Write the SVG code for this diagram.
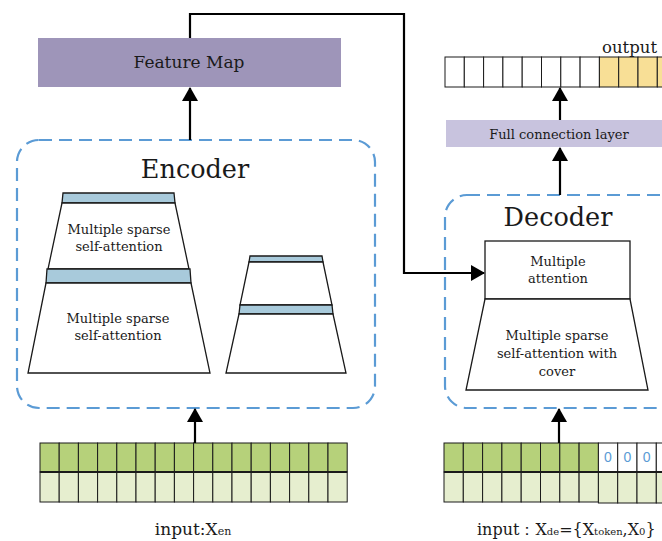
<svg xmlns="http://www.w3.org/2000/svg" width="662" height="541" viewBox="0 0 662 541">
<defs>
<marker id="ah" markerWidth="14" markerHeight="16" refX="13" refY="8" orient="auto" markerUnits="userSpaceOnUse">
<path d="M0,0 L14,8 L0,16 Z" fill="#000"/>
</marker>
<style>
.t{font-family:"DejaVu Serif","Liberation Serif",serif;fill:#1a1a1a;text-anchor:middle}
.dash{fill:none;stroke:#5b9bd5;stroke-width:2.2;stroke-dasharray:13 7}
.shape{fill:#fff;stroke:#1a1a1a;stroke-width:1.3}
.bar{fill:#a8cadb;stroke:#1a1a1a;stroke-width:1.3}
.conn{fill:none;stroke:#000;stroke-width:2.2}
.g1{fill:#b6d17a;stroke:#1a1a1a;stroke-width:1}
.g2{fill:#e6eecf;stroke:#1a1a1a;stroke-width:1}
.w{fill:#fff;stroke:#1a1a1a;stroke-width:1}
.y{fill:#f8df96;stroke:#1a1a1a;stroke-width:1}
</style>
</defs>
<rect width="662" height="541" fill="#fff"/>

<g id="feature-map">
<rect x="38" y="38" width="303" height="49" fill="#9e95b9"/>
<text class="t" x="189" y="68" font-size="17">Feature Map</text>
</g>

<g id="encoder">
<rect class="dash" x="17" y="140" width="358" height="268" rx="22"/>
<text class="t" x="195" y="178" font-size="25.5">Encoder</text>
<g id="enc-stack-left">
<polygon class="bar" points="63,193 174,193 175,203 62,203"/>
<polygon class="shape" points="62,203 175,203 189,269 48,269"/>
<polygon class="bar" points="47,269 190,269 191,283 46,283"/>
<polygon class="shape" points="46,283 191,283 210,373 28,373"/>
<text class="t" x="119" y="234" font-size="13">Multiple sparse</text>
<text class="t" x="119" y="251" font-size="13">self-attention</text>
<text class="t" x="118" y="323" font-size="13">Multiple sparse</text>
<text class="t" x="118" y="340" font-size="13">self-attention</text>
</g>
<g id="enc-stack-right">
<polygon class="bar" points="250,256 322,256 323,262 249,262"/>
<polygon class="shape" points="249,262 323,262 332,305 240,305"/>
<polygon class="bar" points="240,305 332,305 333,314 239,314"/>
<polygon class="shape" points="239,314 333,314 346,373 226,373"/>
</g>
</g>

<g id="decoder">
<rect class="dash" x="445" y="195" width="240" height="213" rx="22"/>
<text class="t" x="558" y="226" font-size="25.5">Decoder</text>
</g>

<g id="multiple-attention">
<rect class="shape" x="485" y="241" width="145" height="58"/>
<text class="t" x="558" y="266" font-size="13">Multiple</text>
<text class="t" x="558" y="283" font-size="13">attention</text>
</g>

<g id="sparse-cover">
<polygon class="shape" points="485,299 630,299 648,390 466,390"/>
<text class="t" x="557" y="340" font-size="13">Multiple sparse</text>
<text class="t" x="557" y="358" font-size="13">self-attention with</text>
<text class="t" x="557" y="376" font-size="13">cover</text>
</g>

<g id="full-connection">
<rect x="446" y="120" width="220" height="27" fill="#c8c3de"/>
<text class="t" x="559" y="138.5" font-size="13">Full connection layer</text>
</g>

<g id="output">
<g>
<rect class="w" x="445" y="57" width="19.3" height="30"/>
<rect class="w" x="464.3" y="57" width="19.3" height="30"/>
<rect class="w" x="483.6" y="57" width="19.3" height="30"/>
<rect class="w" x="502.9" y="57" width="19.3" height="30"/>
<rect class="w" x="522.2" y="57" width="19.3" height="30"/>
<rect class="w" x="541.5" y="57" width="19.3" height="30"/>
<rect class="w" x="560.8" y="57" width="19.3" height="30"/>
<rect class="w" x="580.1" y="57" width="19.3" height="30"/>
<rect class="y" x="599.4" y="57" width="19.3" height="30"/>
<rect class="y" x="618.7" y="57" width="19.3" height="30"/>
<rect class="y" x="638" y="57" width="19.3" height="30"/>
<rect class="y" x="657.3" y="57" width="19.3" height="30"/>
</g>
<text class="t" x="602" y="53" font-size="16.5" style="text-anchor:start">output</text>
</g>

<g id="encoder-input">
<g>
<rect class="g1" x="40" y="443" width="19.2" height="29"/><rect class="g1" x="59.2" y="443" width="19.2" height="29"/><rect class="g1" x="78.4" y="443" width="19.2" height="29"/><rect class="g1" x="97.6" y="443" width="19.2" height="29"/>
<rect class="g1" x="116.8" y="443" width="19.2" height="29"/><rect class="g1" x="136" y="443" width="19.2" height="29"/><rect class="g1" x="155.2" y="443" width="19.2" height="29"/><rect class="g1" x="174.4" y="443" width="19.2" height="29"/>
<rect class="g1" x="193.6" y="443" width="19.2" height="29"/><rect class="g1" x="212.8" y="443" width="19.2" height="29"/><rect class="g1" x="232" y="443" width="19.2" height="29"/><rect class="g1" x="251.2" y="443" width="19.2" height="29"/>
<rect class="g1" x="270.4" y="443" width="19.2" height="29"/><rect class="g1" x="289.6" y="443" width="19.2" height="29"/><rect class="g1" x="308.8" y="443" width="19.2" height="29"/><rect class="g1" x="328" y="443" width="19.2" height="29"/>
<rect class="g2" x="40" y="472" width="19.2" height="30"/><rect class="g2" x="59.2" y="472" width="19.2" height="30"/><rect class="g2" x="78.4" y="472" width="19.2" height="30"/><rect class="g2" x="97.6" y="472" width="19.2" height="30"/>
<rect class="g2" x="116.8" y="472" width="19.2" height="30"/><rect class="g2" x="136" y="472" width="19.2" height="30"/><rect class="g2" x="155.2" y="472" width="19.2" height="30"/><rect class="g2" x="174.4" y="472" width="19.2" height="30"/>
<rect class="g2" x="193.6" y="472" width="19.2" height="30"/><rect class="g2" x="212.8" y="472" width="19.2" height="30"/><rect class="g2" x="232" y="472" width="19.2" height="30"/><rect class="g2" x="251.2" y="472" width="19.2" height="30"/>
<rect class="g2" x="270.4" y="472" width="19.2" height="30"/><rect class="g2" x="289.6" y="472" width="19.2" height="30"/><rect class="g2" x="308.8" y="472" width="19.2" height="30"/><rect class="g2" x="328" y="472" width="19.2" height="30"/>
<line x1="40" y1="472" x2="347" y2="472" stroke="#1a1a1a" stroke-width="2"/>
</g>
<text class="t" x="193" y="535" font-size="17">input:X<tspan font-size="11">en</tspan></text>
</g>

<g id="decoder-input">
<g>
<rect class="g1" x="444" y="443" width="19.3" height="29"/><rect class="g1" x="463.3" y="443" width="19.3" height="29"/><rect class="g1" x="482.6" y="443" width="19.3" height="29"/><rect class="g1" x="501.9" y="443" width="19.3" height="29"/>
<rect class="g1" x="521.2" y="443" width="19.3" height="29"/><rect class="g1" x="540.5" y="443" width="19.3" height="29"/><rect class="g1" x="559.8" y="443" width="19.3" height="29"/><rect class="g1" x="579.1" y="443" width="19.3" height="29"/>
<rect class="w" x="598.4" y="443" width="19.3" height="29"/><rect class="w" x="617.7" y="443" width="19.3" height="29"/><rect class="w" x="637" y="443" width="19.3" height="29"/><rect class="w" x="656.3" y="443" width="19.3" height="29"/>
<rect class="g2" x="444" y="472" width="19.3" height="30"/><rect class="g2" x="463.3" y="472" width="19.3" height="30"/><rect class="g2" x="482.6" y="472" width="19.3" height="30"/><rect class="g2" x="501.9" y="472" width="19.3" height="30"/>
<rect class="g2" x="521.2" y="472" width="19.3" height="30"/><rect class="g2" x="540.5" y="472" width="19.3" height="30"/><rect class="g2" x="559.8" y="472" width="19.3" height="30"/><rect class="g2" x="579.1" y="472" width="19.3" height="30"/>
<rect class="g2" x="598.4" y="472" width="19.3" height="31"/><rect class="g2" x="617.7" y="472" width="19.3" height="31"/><rect class="g2" x="637" y="472" width="19.3" height="31"/><rect class="g2" x="656.3" y="472" width="19.3" height="31"/>
<line x1="444" y1="472" x2="662" y2="472" stroke="#1a1a1a" stroke-width="2"/>
<g font-family="'Liberation Sans',Arial,sans-serif" font-size="14" fill="#5b9bd5" text-anchor="middle">
<text x="608" y="462">0</text><text x="627.3" y="462">0</text><text x="646.6" y="462">0</text>
</g>
</g>
<text class="t" x="477" y="535" font-size="16" style="text-anchor:start">input：X<tspan font-size="10">de</tspan>={X<tspan font-size="10">token</tspan>,X<tspan font-size="10">0</tspan>}</text>
</g>

<g id="connectors">
<line class="conn" x1="190" y1="140" x2="190" y2="88" marker-end="url(#ah)"/>
<polyline class="conn" points="190,38 190,14 404,14 404,273 484,273" marker-end="url(#ah)"/>
<line class="conn" x1="195" y1="443" x2="195" y2="409" marker-end="url(#ah)"/>
<line class="conn" x1="559" y1="443" x2="559" y2="409" marker-end="url(#ah)"/>
<line class="conn" x1="560" y1="195" x2="560" y2="148" marker-end="url(#ah)"/>
<line class="conn" x1="560" y1="120" x2="560" y2="88" marker-end="url(#ah)"/>
</g>
</svg>
